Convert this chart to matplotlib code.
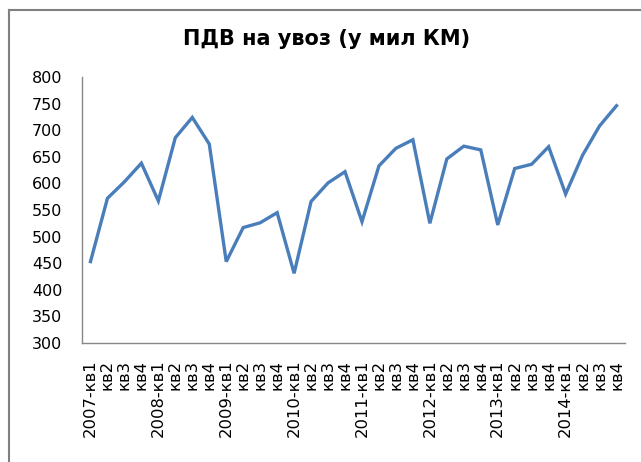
import matplotlib
matplotlib.use("Agg")
import matplotlib.pyplot as plt
from matplotlib.lines import Line2D

# Quarterly values
years = [2007, 2008, 2009, 2010, 2011, 2012, 2013, 2014]
quarters = ["кв1", "кв2", "кв3", "кв4"]
values = [453, 572, 603, 638,
          567, 686, 724, 674,
          453, 517, 526, 545,
          431, 566, 601, 622,
          528, 633, 666, 682,
          525, 646, 670, 663,
          522, 628, 636, 669,
          580, 653, 708, 746]

labels = []
for y in years:
    for q in quarters:
        labels.append(f"{y}-{q}" if q == "кв1" else q)

plt.rcParams['font.family'] = ['DejaVu Sans']

fig = plt.figure(figsize=(6.41, 4.62), dpi=100)
ax = fig.add_axes([82 / 641, 1 - 343 / 462, 543 / 641, 266 / 462])

x = range(len(values))
ax.plot(x, values, color='#4A7EBB', linewidth=2.4, solid_joinstyle='miter')

ax.set_xlim(-0.5, len(values) - 0.5)
ax.set_ylim(300, 800)
ax.set_yticks(range(300, 801, 50))
ax.set_xticks(list(x))
ax.set_xticklabels(labels, rotation=90, va='top', ha='center')

ax.tick_params(axis='both', length=0, labelsize=11.5, colors='black')
ax.tick_params(axis='y', pad=14)
ax.tick_params(axis='x', pad=12, labelsize=11.8)
for side in ['top', 'right']:
    ax.spines[side].set_visible(False)
for side in ['left', 'bottom']:
    ax.spines[side].set_color('#868686')
    ax.spines[side].set_linewidth(1)

fig.text(327 / 641, 1 - 39 / 462, 'ПДВ на увоз (у мил КМ)', ha='center',
         va='center', fontsize=15, fontweight='bold')

# outer chart border (only left and top visible in the crop)
fig.add_artist(Line2D([8.5 / 641, 8.5 / 641], [0, 1 - 9.5 / 462],
                      color='#808080', linewidth=1.5, transform=fig.transFigure))
fig.add_artist(Line2D([8.5 / 641, 1], [1 - 9.5 / 462, 1 - 9.5 / 462],
                      color='#808080', linewidth=1.5, transform=fig.transFigure))

fig.savefig('out.png', dpi=100)
